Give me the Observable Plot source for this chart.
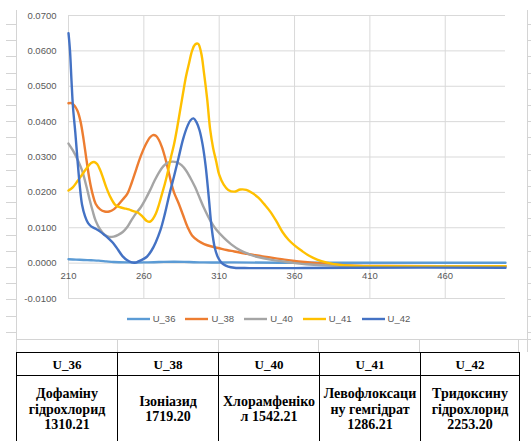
<!DOCTYPE html>
<html>
<head>
<meta charset="utf-8">
<script src="https://cdn.jsdelivr.net/npm/d3@7"></script>
<script src="https://cdn.jsdelivr.net/npm/@observablehq/plot@0.6"></script>
<style>
  html, body { margin: 0; padding: 0; background: #fff; }
  #page { position: relative; width: 531px; height: 441px; overflow: hidden; background: #fff; }
  #sheet { position: absolute; left: 0; top: 0; }
  #chart { position: absolute; left: 0; top: 0; }
  #legend { position: absolute; left: 0; top: 313px; width: 531px; display: flex; justify-content: center;
            font: 9.5px "Liberation Sans", Arial, sans-serif; color: #595959; padding-left: 6px; box-sizing: border-box; }
  #legend .item { display: flex; align-items: center; margin: 0 5px; }
  #legend svg { margin-right: 3px; }
  #tbl { position: absolute; left: 16px; top: 352px; border-collapse: collapse; table-layout: fixed;
         font: bold 13px "Liberation Serif", "Times New Roman", serif; color: #000; }
  #tbl td, #tbl th { border: 1px solid #000; text-align: center; padding: 0; }
  #tbl th { height: 21px; font-weight: bold; font-size: 13px; padding-top: 1px; }
  #tbl td { height: 80px; vertical-align: top; line-height: 15.5px; font-size: 14px; }
</style>
</head>
<body>
<div id="page">
  <svg id="sheet" width="531" height="441"></svg>
  <div id="chart"></div>
  <div id="legend"></div>
  <table id="tbl"><colgroup></colgroup><thead><tr></tr></thead><tbody><tr></tr></tbody></table>
</div>
<script>
// Absorbance spectra, wavelength (nm) -> absorbance
const u36 = [[210,0.0011],[215,0.0010],[220,0.0009],[225,0.0008],[230,0.0007],[235,0.0005],[240,0.0003],
  [250,0.0002],[260,0.0002],[270,0.0003],[280,0.0004],[290,0.0003],[300,0.0002],[320,0.0002],[350,0.0001],
  [400,0.0001],[500,0.0001]];

const u38 = [[210,0.0452],[212,0.0452],[214,0.0445],[216,0.0430],[218,0.0400],[220,0.0350],[222,0.0290],
  [224,0.0235],[226,0.0195],[228,0.0168],[231,0.0152],[234,0.0146],[237,0.0146],[240,0.0152],[243,0.0165],
  [246,0.0180],[249,0.0196],[252,0.0228],[255,0.0266],[258,0.0303],[261,0.0333],[264,0.0355],[266,0.0362],
  [268,0.0360],[270,0.0348],[272,0.0328],[274,0.0300],[276,0.0266],[278,0.0230],[280,0.0200],[283,0.0170],
  [286,0.0136],[289,0.0102],[292,0.0078],[296,0.0063],[300,0.0054],[305,0.0047],[310,0.0042],[315,0.0037],
  [320,0.0033],[330,0.0025],[340,0.0018],[350,0.0012],[360,0.0006],[370,0.0002],[380,-0.0002],
  [390,-0.0005],[400,-0.0007],[420,-0.0008],[500,-0.0009]];

const u40 = [[210,0.0338],[213,0.0318],[216,0.0293],[219,0.0262],[222,0.0215],[224,0.0180],[226,0.0148],
  [228,0.0120],[231,0.0095],[234,0.0080],[237,0.0074],[240,0.0075],[243,0.0080],[246,0.0088],[249,0.0102],
  [252,0.0123],[255,0.0142],[258,0.0158],[261,0.0180],[264,0.0205],[267,0.0232],[270,0.0256],[273,0.0274],
  [276,0.0284],[279,0.0287],[282,0.0285],[285,0.0277],[288,0.0262],[291,0.0240],[294,0.0215],[297,0.0185],
  [300,0.0155],[304,0.0121],[308,0.0095],[313,0.0072],[318,0.0053],[324,0.0036],[330,0.0025],[335,0.0018],
  [345,0.0009],[357,0.0002],[370,-0.0004],[385,-0.0007],[400,-0.0008],[500,-0.0009]];

const u41 = [[210,0.0205],[213,0.0215],[216,0.0232],[219,0.0250],[222,0.0268],[225,0.0283],[227,0.0286],
  [229,0.0280],[231,0.0263],[233,0.0240],[235,0.0215],[238,0.0185],[241,0.0165],[244,0.0158],[247,0.0155],
  [250,0.0152],[253,0.0147],[256,0.0143],[259,0.0132],[262,0.0119],[264,0.0117],[266,0.0125],[268,0.0140],
  [270,0.0165],[272,0.0195],[274,0.0225],[276,0.0260],[278,0.0300],[280,0.0335],[282,0.0380],[284,0.0430],
  [286,0.0480],[288,0.0528],[290,0.0565],[292,0.0600],[294,0.0618],[296,0.0620],[298,0.0595],[300,0.0535],
  [302,0.0465],[304,0.0378],[306,0.0325],[308,0.0288],[310,0.0250],[313,0.0222],[316,0.0207],[320,0.0202],
  [324,0.0208],[328,0.0207],[332,0.0198],[336,0.0185],[340,0.0166],[344,0.0145],[348,0.0118],[352,0.0088],
  [356,0.0066],[360,0.0050],[365,0.0034],[370,0.0020],[375,0.0010],[381,0.0002],[390,-0.0005],
  [400,-0.0008],[420,-0.0009],[500,-0.0009]];

const u42 = [[210,0.0650],[211,0.0600],[212,0.0515],[213,0.0440],[214.5,0.0370],[216,0.0290],[217.5,0.0218],
  [219,0.0165],[221,0.0132],[223,0.0113],[225,0.0104],[228,0.0097],[231,0.0089],[234,0.0079],[237,0.0068],
  [240,0.0055],[243,0.0037],[246,0.0019],[249,0.0008],[252,0.0002],[254,0.0001],[256,0.0004],[259,0.0010],
  [262,0.0018],[265,0.0035],[268,0.0060],[271,0.0093],[274,0.0140],[277,0.0195],[280,0.0245],[283,0.0297],
  [286,0.0350],[289,0.0388],[291,0.0404],[293,0.0409],[295,0.0398],[297,0.0375],[299,0.0335],[301,0.0275],
  [303,0.0190],[305,0.0100],[307,0.0045],[309,0.0018],[311,0.0004],[313,-0.0004],[316,-0.0010],
  [320,-0.0013],[330,-0.0014],[360,-0.0014],[400,-0.0013],[500,-0.0013]];

const seriesNames = ["U_36", "U_38", "U_40", "U_41", "U_42"];
const seriesColors = ["#5B9BD5", "#ED7D31", "#A5A5A5", "#FFC000", "#4472C4"];
const xTicks = [210, 260, 310, 360, 410, 460];
const yTicks = [-0.01, 0, 0.01, 0.02, 0.03, 0.04, 0.05, 0.06, 0.07];

// Compound names and values for the table under the chart
const compoundLines = [
  ["Дофаміну", "гідрохлорид", "1310.21"],
  ["Ізоніазид", "1719.20"],
  ["Хлорамфеніко", "л 1542.21"],
  ["Левофлоксаци", "ну гемгідрат", "1286.21"],
  ["Тридоксину", "гідрохлорид", "2253.20"]
];

const spectra = [u36, u38, u40, u41, u42];
const rows = spectra.flatMap((s, i) => s.map(([nm, a]) => ({series: seriesNames[i], nm, a})));

const chart = Plot.plot({
  width: 531,
  height: 338,
  marginLeft: 68,
  marginRight: 26,
  marginTop: 15,
  marginBottom: 40,
  style: {fontFamily: "'Liberation Sans', Arial, sans-serif", background: "transparent"},
  x: {domain: [210, 500], axis: null},
  y: {domain: [-0.01, 0.07], axis: null},
  color: {domain: seriesNames, range: seriesColors},
  marks: [
    Plot.ruleY(yTicks, {y: d => d, stroke: "#d9d9d9", strokeWidth: 1}),
    Plot.ruleX(xTicks, {x: d => d, stroke: "#d9d9d9", strokeWidth: 1}),
    Plot.text(yTicks, {x: 210, y: d => d, text: d => d.toFixed(4), textAnchor: "end", dx: -12,
      fill: "#595959", fontSize: 9.5}),
    Plot.text(xTicks, {x: d => d, y: 0, text: d => String(d), dy: 13, fill: "#595959", fontSize: 9.5}),
    Plot.line(rows, {x: "nm", y: "a", z: "series", stroke: "series", strokeWidth: 2.4,
      curve: "catmull-rom", strokeLinejoin: "round"})
  ]
});
document.getElementById("chart").appendChild(chart);

// Legend with line swatches
const legend = d3.select("#legend");
seriesNames.forEach((name, i) => {
  const item = legend.append("div").attr("class", "item");
  const sw = item.append("svg").attr("width", 23).attr("height", 6);
  sw.append("line").attr("x1", 0).attr("x2", 23).attr("y1", 3).attr("y2", 3)
    .attr("stroke", seriesColors[i]).attr("stroke-width", 2.4);
  item.append("span").text(name);
});

// Table of compounds; each cell's text block is centred on the same line
const cols = d3.select("#tbl colgroup");
const head = d3.select("#tbl thead tr");
const body = d3.select("#tbl tbody tr");
seriesNames.forEach((name, i) => {
  cols.append("col").style("width", (i === 4 ? 99 : 101) + "px");
  head.append("th").text(name);
  const lines = compoundLines[i];
  const td = body.append("td").style("padding-top", (10 + (3 - lines.length) * 7.75) + "px");
  lines.forEach((t, j) => {
    if (j) td.append("br");
    td.append("span").text(t);
  });
});

// Spreadsheet cell grid around the chart object
const sheet = d3.select("#sheet");
const g = "#d4d4d4";
sheet.append("line").attr("x1", 16.5).attr("x2", 16.5).attr("y1", 10).attr("y2", 352).attr("stroke", g);
sheet.append("line").attr("x1", 527.5).attr("x2", 527.5).attr("y1", 10).attr("y2", 352).attr("stroke", g);
for (let y = 24; y < 340; y += 16.2) {
  sheet.append("line").attr("x1", 6).attr("x2", 16).attr("y1", Math.round(y) + 0.5).attr("y2", Math.round(y) + 0.5).attr("stroke", g);
  sheet.append("line").attr("x1", 528).attr("x2", 531).attr("y1", Math.round(y) + 0.5).attr("y2", Math.round(y) + 0.5).attr("stroke", g);
}
sheet.append("line").attr("x1", 16).attr("x2", 531).attr("y1", 339.5).attr("y2", 339.5).attr("stroke", g);
[117, 218, 318, 419, 518].forEach(x => {
  sheet.append("line").attr("x1", x + 0.5).attr("x2", x + 0.5).attr("y1", 339).attr("y2", 352).attr("stroke", g);
});
</script>
</body>
</html>
